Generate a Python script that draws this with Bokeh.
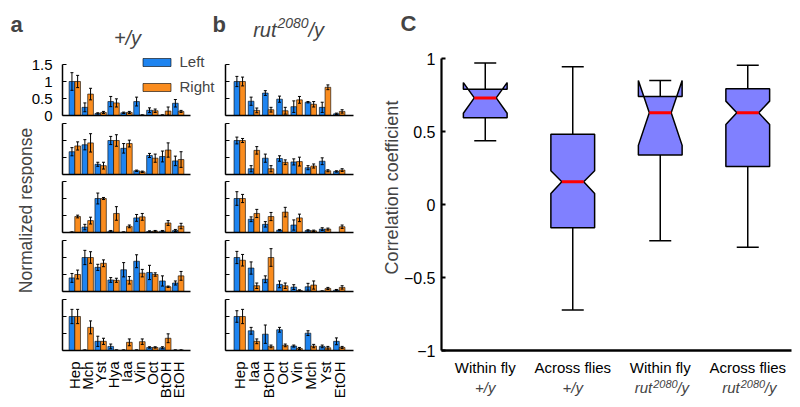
import math
from bokeh.plotting import figure
from bokeh.layouts import row, column
from bokeh.models import (ColumnDataSource, FixedTicker, Label, Legend, LegendItem,
                          Range1d)
from bokeh.transform import dodge
from bokeh.embed import file_html
from bokeh.resources import INLINE

FONT = "Liberation Sans"
BLUE = "#1E84F0"
ORANGE = "#FA8C1E"
BOX_FILL = "#8080FF"

# ---------------- data: panel a (+/y) ----------------
ODORS_A = ["Hep", "Mch", "Yst", "Hya", "Iaa", "Vin", "Oct", "BtOH", "EtOH"]
A_LEFT = [
    [1.00, 0.24, 0.06, 0.41, 0.08, 0.41, 0.155, 0.01, 0.36],
    [0.67, 0.875, 0.30, 1.00, 0.77, 0.11, 0.56, 0.53, 0.40],
    [0.01, 0.16, 1.00, 0.04, 0.01, 0.43, 0.03, 0.04, 0.06],
    [0.40, 1.00, 0.71, 0.34, 0.64, 0.89, 0.56, 0.31, 0.25],
    [1.00, 0.01, 0.27, 0.12, 0.01, 0.01, 0.09, 0.08, 0.01],
]
A_LEFT_ERR = [
    [0.26, 0.13, 0.02, 0.15, 0.02, 0.13, 0.07, 0.01, 0.11],
    [0.12, 0.15, 0.06, 0.12, 0.14, 0.02, 0.06, 0.16, 0.14],
    [0.01, 0.08, 0.16, 0.02, 0.01, 0.10, 0.02, 0.02, 0.03],
    [0.13, 0.21, 0.09, 0.07, 0.21, 0.19, 0.21, 0.15, 0.06],
    [0.21, 0.01, 0.15, 0.07, 0.01, 0.01, 0.02, 0.03, 0.01],
]
A_RIGHT = [
    [1.00, 0.63, 0.09, 0.37, 0.09, 0.01, 0.14, 0.13, 0.12],
    [0.84, 0.93, 0.26, 1.00, 0.91, 0.08, 0.48, 0.72, 0.44],
    [0.47, 0.35, 1.00, 0.56, 0.18, 0.46, 0.04, 0.28, 0.19],
    [0.50, 1.00, 0.83, 0.33, 0.33, 0.54, 0.50, 0.14, 0.46],
    [1.00, 0.68, 0.27, 0.01, 0.24, 0.26, 0.09, 0.36, 0.01],
]
A_RIGHT_ERR = [
    [0.18, 0.17, 0.03, 0.12, 0.03, 0.01, 0.05, 0.12, 0.03],
    [0.12, 0.27, 0.10, 0.17, 0.10, 0.02, 0.12, 0.21, 0.23],
    [0.04, 0.10, 0.03, 0.20, 0.04, 0.10, 0.02, 0.07, 0.08],
    [0.13, 0.17, 0.10, 0.06, 0.11, 0.11, 0.05, 0.02, 0.13],
    [0.21, 0.19, 0.09, 0.01, 0.10, 0.08, 0.02, 0.13, 0.01],
]

# ---------------- data: panel b (rut2080/y) ----------------
ODORS_B = ["Hep", "Iaa", "BtOH", "Oct", "Vin", "Mch", "Yst", "EtOH"]
B_LEFT = [
    [1.00, 0.42, 0.66, 0.48, 0.26, 0.39, 0.24, 0.05],
    [1.00, 0.17, 0.48, 0.47, 0.37, 0.20, 0.39, 0.09],
    [1.00, 0.39, 0.24, 0.07, 0.22, 0.06, 0.10, 0.00],
    [1.00, 0.69, 0.36, 0.21, 0.13, 0.14, 0.01, 0.04],
    [1.00, 0.58, 0.48, 0.61, 0.13, 0.51, 0.12, 0.27],
]
B_LEFT_ERR = [
    [0.15, 0.12, 0.07, 0.09, 0.17, 0.02, 0.15, 0.02],
    [0.10, 0.09, 0.12, 0.08, 0.09, 0.06, 0.10, 0.02],
    [0.20, 0.07, 0.08, 0.02, 0.15, 0.02, 0.04, 0.00],
    [0.18, 0.18, 0.10, 0.10, 0.07, 0.10, 0.01, 0.02],
    [0.17, 0.10, 0.27, 0.07, 0.03, 0.07, 0.04, 0.10],
]
B_RIGHT = [
    [1.00, 0.15, 0.17, 0.14, 0.46, 0.33, 0.83, 0.12],
    [1.00, 0.71, 0.17, 0.36, 0.38, 0.25, 0.11, 0.13],
    [1.00, 0.56, 0.47, 0.60, 0.43, 0.05, 0.10, 0.17],
    [0.92, 0.17, 1.00, 0.17, 0.03, 0.19, 0.09, 0.12],
    [1.00, 0.27, 0.12, 0.15, 0.06, 0.13, 0.08, 0.09],
]
B_RIGHT_ERR = [
    [0.13, 0.07, 0.07, 0.10, 0.10, 0.08, 0.07, 0.05],
    [0.06, 0.11, 0.09, 0.07, 0.13, 0.06, 0.03, 0.04],
    [0.12, 0.12, 0.12, 0.14, 0.11, 0.02, 0.03, 0.05],
    [0.17, 0.08, 0.26, 0.08, 0.02, 0.12, 0.03, 0.05],
    [0.21, 0.07, 0.04, 0.04, 0.03, 0.05, 0.04, 0.03],
]

Y_TICKS = [0, 0.5, 1, 1.5]
Y_TICK_LABELS = ["0", "0.5", "1", "1.5"]

# ---------------- data: panel C (box plots) ----------------
GROUP_LINE1 = ["Within fly", "Across flies", "Within fly", "Across flies"]
GROUP_GENO = ["+/y", "+/y", "rut", "rut"]
BOX_POS = [1, 2, 3, 4]
WHISK_HI = [0.97, 0.943, 0.85, 0.954]
Q3 = [0.79, 0.482, 0.74, 0.792]
NOTCH_HI = [0.835, 0.231, 0.85, 0.708]
MEDIAN = [0.73, 0.156, 0.628, 0.628]
NOTCH_LO = [0.625, 0.075, 0.405, 0.548]
Q1 = [0.594, -0.159, 0.339, 0.261]
WHISK_LO = [0.436, -0.722, -0.248, -0.293]
C_TICKS = [-1, -0.5, 0, 0.5, 1]
C_TICK_LABELS = ["\u22121", "\u22120.5", "0", "0.5", "1"]

BL = 4  # correction for the alphabetic baseline of the svg labels


def style_common(p):
    p.outline_line_color = None
    p.grid.visible = False
    p.background_fill_color = "white"
    p.border_fill_color = "white"


def text_fig(width, height, xr=None, lb=0, rb=0):
    p = figure(width=width, height=height, x_range=Range1d(*(xr or (0, width))),
               y_range=Range1d(0, height), output_backend="svg", toolbar_location=None,
               x_axis_location=None, y_axis_location=None, min_border=0,
               min_border_left=lb, min_border_right=rb)
    style_common(p)
    return p


def bar_panel(odors, L, Le, R, Re, width, height, lb, rb, tb, bb, xr, yr, xbounds,
              bw, ylabels=False, xlabels=False):
    idx = list(range(1, len(odors) + 1))
    lo = lambda v, e: [max(a - b, 0.0) for a, b in zip(v, e)]
    hi = lambda v, e: [a + b for a, b in zip(v, e)]
    src = ColumnDataSource(dict(idx=idx, L=L, R=R, L_lo=lo(L, Le), L_hi=hi(L, Le),
                                R_lo=lo(R, Re), R_hi=hi(R, Re)))
    p = figure(width=width, height=height, x_range=Range1d(*xr), y_range=Range1d(*yr),
               output_backend="svg", toolbar_location=None,
               min_border_left=lb, min_border_right=rb, min_border_top=tb,
               min_border_bottom=bb)
    style_common(p)
    xl = dodge("idx", -bw / 2)
    xrr = dodge("idx", bw / 2)
    rl = p.vbar(x=xl, top="L", width=bw, source=src, fill_color=BLUE,
                line_color="black", line_width=0.6)
    rr = p.vbar(x=xrr, top="R", width=bw, source=src, fill_color=ORANGE,
                line_color="black", line_width=0.6)
    for x, a, b in ((xl, "L_lo", "L_hi"), (xrr, "R_lo", "R_hi")):
        p.segment(x0=x, y0=a, x1=x, y1=b, source=src, line_color="black", line_width=1)
        p.scatter(x=x, y=b, marker="dash", size=3, line_color="black", line_width=1,
                  source=src)
        p.scatter(x=x, y=a, marker="dash", size=3, line_color="black", line_width=1,
                  source=src)
    yax = p.yaxis[0]
    yax.bounds = (0, 1.5)
    yax.axis_line_width = 1.5
    if ylabels:
        yax.ticker = FixedTicker(ticks=Y_TICKS, minor_ticks=[])
        yax.major_label_overrides = dict(zip(Y_TICKS, Y_TICK_LABELS))
        yax.major_label_text_font = FONT
        yax.major_label_text_font_size = "15px"
        yax.major_label_text_color = "black"
        yax.major_label_standoff = 10
        yax.major_tick_in = 4
        yax.major_tick_out = 0
        yax.major_tick_line_width = 1
    else:
        yax.ticker = FixedTicker(ticks=[], minor_ticks=Y_TICKS)
        yax.minor_tick_in = 4
        yax.minor_tick_out = 0
        yax.minor_tick_line_width = 1
        yax.minor_tick_line_color = "black"
        yax.major_label_standoff = 0
    xax = p.xaxis[0]
    xax.bounds = xbounds
    xax.axis_line_width = 1.5
    xax.major_tick_line_color = None
    xax.minor_tick_line_color = None
    if xlabels:
        xax.ticker = FixedTicker(ticks=idx, minor_ticks=[])
        xax.major_label_overrides = dict(zip(idx, odors))
        xax.major_label_orientation = math.pi / 2
        xax.major_label_text_font = FONT
        xax.major_label_text_font_size = "15px"
        xax.major_label_text_color = "black"
        xax.major_label_standoff = 5
    else:
        xax.ticker = FixedTicker(ticks=[], minor_ticks=[])
        xax.major_label_standoff = 0
    return p, rl, rr


# stacked rows: top border, bottom border, figure height
A_TB = [0, 1, 4, 4, 4]
B_TB = [14, 1, 4, 4, 4]
ROW_BB = [7, 3, 4, 4, 57]
ROW_H = [72, 55, 59, 59, 112]

XA = (0.05, 9.95)
XB = (0.0, 9.0)
YR = (0, 1.5)

a_figs = []
for k in range(5):
    if k == 0:
        # first panel's frame also holds the legend (extends up and right)
        xr = (XA[0], XA[0] + (XA[1] - XA[0]) * 158 / 128)
        yr = (0, 1.5 * 65 / 51)
        p, rl, rr = bar_panel(ODORS_A, A_LEFT[k], A_LEFT_ERR[k], A_RIGHT[k],
                              A_RIGHT_ERR[k], 220, ROW_H[k], 62, 0, A_TB[k], ROW_BB[k],
                              xr, yr, XA, 0.44, ylabels=True)
        leg = Legend(items=[LegendItem(label="Left", renderers=[rl]),
                            LegendItem(label="Right", renderers=[rr])],
                     location=(76.5, 20), orientation="vertical", padding=0, margin=0,
                     spacing=8, glyph_width=35, glyph_height=10, label_height=17,
                     label_standoff=6, label_text_font=FONT, label_text_font_size="15px",
                     label_text_baseline="alphabetic",
                     border_line_color=None, background_fill_alpha=0)
        p.add_layout(leg)
    else:
        p, rl, rr = bar_panel(ODORS_A, A_LEFT[k], A_LEFT_ERR[k], A_RIGHT[k],
                              A_RIGHT_ERR[k], 186, ROW_H[k], 28, 30, A_TB[k], ROW_BB[k],
                              XA, YR, XA, 0.44, xlabels=(k == 4))
    a_figs.append(p)

b_figs = []
for k in range(5):
    p, rl, rr = bar_panel(ODORS_B, B_LEFT[k], B_LEFT_ERR[k], B_RIGHT[k], B_RIGHT_ERR[k],
                          135, ROW_H[k], 5, 2, B_TB[k], ROW_BB[k], XB, YR, XB, 0.40,
                          xlabels=(k == 4))
    b_figs.append(p)

# y label for panel a
labA = text_fig(34, 285)
labA.add_layout(Label(x=29 - BL, y=197, text="Normalized response", angle=math.pi / 2,
                      text_align="center", text_baseline="alphabetic", text_font=FONT,
                      text_font_size="17.5px"))


def hlabel(fig, x, y, text, size, style="normal", align="left", x_offset=0, bottom=None):
    # y is the page y of the text baseline; bottom is the page y of the figure's bottom
    h = fig.height if bottom is None else bottom
    fig.add_layout(Label(x=x, y=h - (y - BL), x_offset=x_offset, text=text,
                         text_font=FONT, text_font_size=size, text_font_style=style,
                         text_align=align, text_baseline="alphabetic"))


# header with panel letters and titles for a and b
hdr = text_fig(355, 50)
hlabel(hdr, 10, 28, "a", "22px", "bold")
hlabel(hdr, 127, 41, "+/y", "20px", "italic", "center")
hlabel(hdr, 212, 28, "b", "22px", "bold")
hlabel(hdr, 276, 33, "rut", "20px", "italic", "right")
hlabel(hdr, 277, 26, "2080", "14px", "italic", "left")
hlabel(hdr, 308, 33, "/y", "20px", "italic", "left")

hdr_c = text_fig(445, 50)
hlabel(hdr_c, 45, 27, "C", "22px", "bold")

labC = text_fig(45, 357)
labC.add_layout(Label(x=40 - BL, y=220, text="Correlation coefficient",
                      angle=math.pi / 2, text_align="center", text_baseline="alphabetic",
                      text_font=FONT, text_font_size="18px"))

# ---------------- panel C ----------------
C_XR = (0.5, 4.5)
pc = figure(width=400, height=328, x_range=Range1d(*C_XR), y_range=Range1d(-1, 1),
            output_backend="svg", toolbar_location=None, min_border_left=39,
            min_border_right=9, min_border_top=8, min_border_bottom=27)
style_common(pc)
BOX_W = 0.5
d = BOX_W * 0.25
xs, ys = [], []
for c, q1, nlo, m, nhi, q3 in zip(BOX_POS, Q1, NOTCH_LO, MEDIAN, NOTCH_HI, Q3):
    L, R = c - BOX_W / 2, c + BOX_W / 2
    xs.append([L, L, L + d, L, L, R, R, R - d, R, R])
    ys.append([q1, nlo, m, nhi, q3, q3, nhi, m, nlo, q1])
pc.segment(x0=BOX_POS, y0=Q3, x1=BOX_POS, y1=WHISK_HI, line_color="black", line_width=1.5)
pc.segment(x0=BOX_POS, y0=Q1, x1=BOX_POS, y1=WHISK_LO, line_color="black", line_width=1.5)
pc.scatter(x=BOX_POS, y=WHISK_HI, marker="dash", size=22, line_color="black", line_width=1.5)
pc.scatter(x=BOX_POS, y=WHISK_LO, marker="dash", size=22, line_color="black", line_width=1.5)
pc.patches(xs=xs, ys=ys, fill_color=BOX_FILL, line_color="black", line_width=1.5)
pc.segment(x0=[c - d for c in BOX_POS], y0=MEDIAN, x1=[c + d for c in BOX_POS], y1=MEDIAN,
           line_color="#FF0000", line_width=3)

yc = pc.yaxis[0]
yc.ticker = FixedTicker(ticks=C_TICKS, minor_ticks=[])
yc.major_label_overrides = dict(zip(C_TICKS, C_TICK_LABELS))
yc.axis_line_width = 2.2
yc.major_tick_in = 4
yc.major_tick_out = 0
yc.major_tick_line_width = 2
yc.major_label_text_font = FONT
yc.major_label_text_font_size = "16px"
yc.major_label_text_color = "black"
yc.major_label_standoff = 6

xc = pc.xaxis[0]
xc.ticker = FixedTicker(ticks=BOX_POS, minor_ticks=[])
xc.major_label_overrides = dict(zip(BOX_POS, GROUP_LINE1))
xc.axis_line_width = 2.5
xc.major_tick_line_color = None
xc.major_label_text_font = FONT
xc.major_label_text_font_size = "15px"
xc.major_label_text_color = "black"
xc.major_label_standoff = 2

# second line of the group labels, on the same x scale as panel C
# (this strip spans page y 378..407)
line2 = text_fig(400, 29, xr=C_XR, lb=39, rb=9)


def l2(c, page_y, text, size, align, xo):
    line2.add_layout(Label(x=c, y=407 - (page_y - BL), x_offset=xo, text=text,
                           text_font=FONT, text_font_size=size, text_font_style="italic",
                           text_align=align, text_baseline="alphabetic"))


for c, g in zip(BOX_POS, GROUP_GENO):
    if g == "rut":
        l2(c, 391, "rut", "15px", "right", -8)
        l2(c, 387, "2080", "11px", "left", -7)
        l2(c, 391, "/y", "15px", "left", 17)
    else:
        l2(c, 391, g, "15px", "center", 0)

col_a = column(a_figs[0], row(labA, column(*a_figs[1:])))
col_b = column(*b_figs)
left = column(hdr, row(col_a, col_b))
right = column(hdr_c, row(labC, column(pc, line2)))
layout = row(left, right)

open("out.html", "w").write(file_html(layout, INLINE))
